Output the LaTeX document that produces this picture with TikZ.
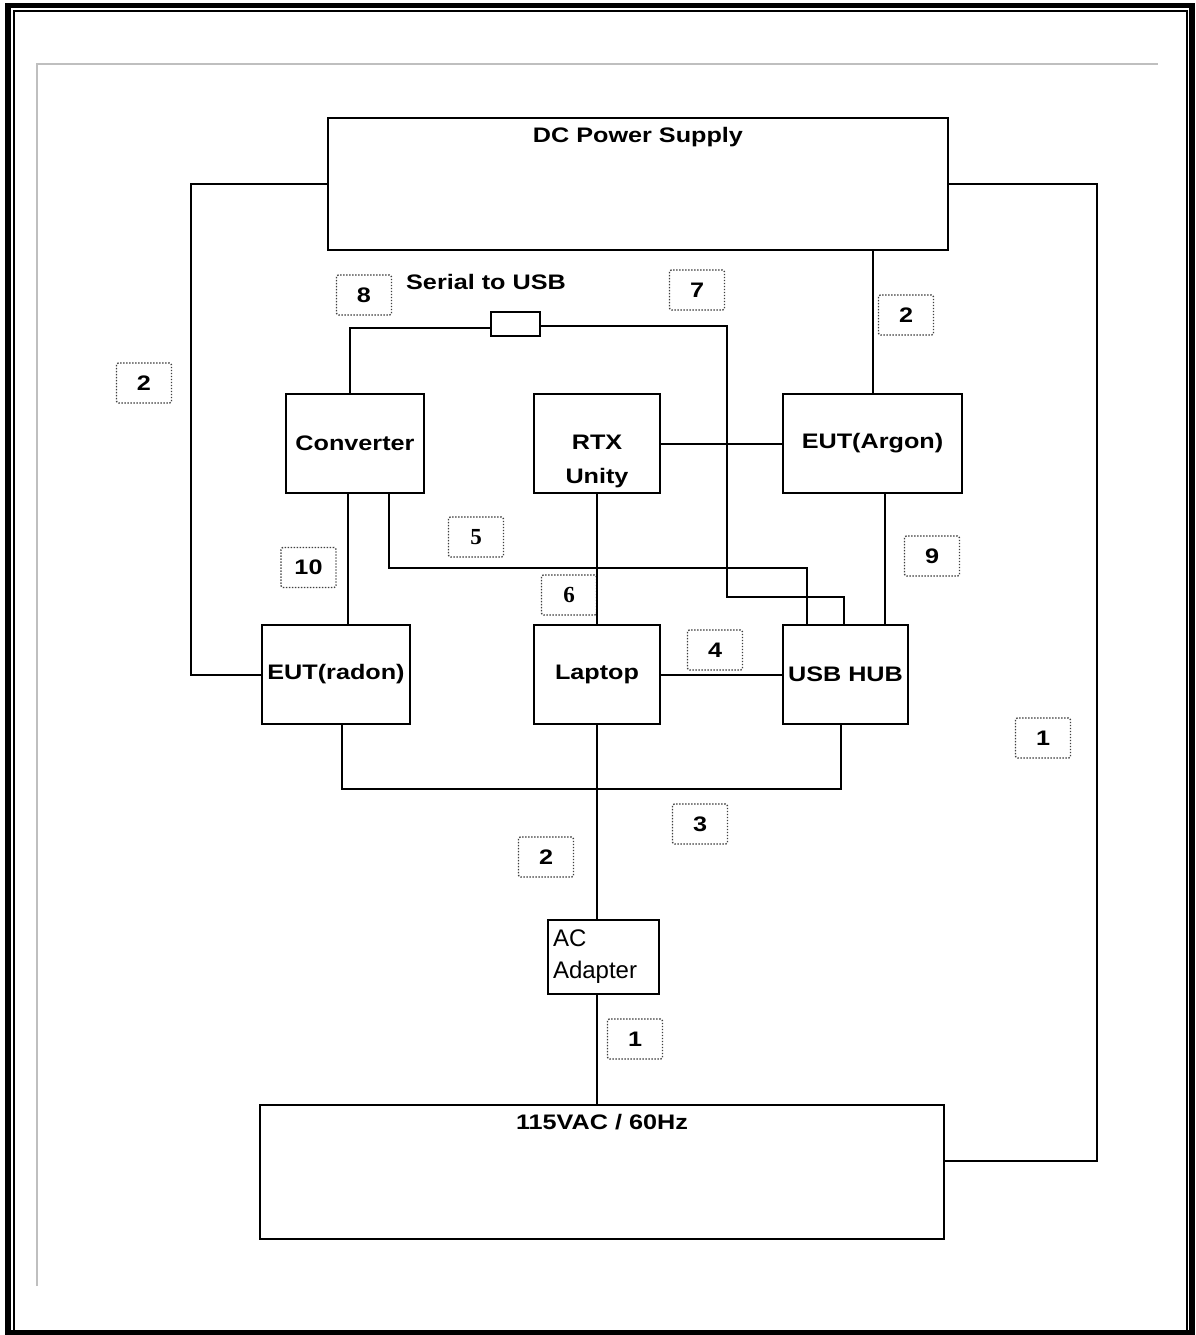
\documentclass[tikz,border=0pt]{standalone}
\usepackage{fontspec}
\setmainfont{Liberation Sans}
\newfontfamily\bsf[FakeStretch=1.2]{Liberation Sans}
\newfontfamily\bsr{Liberation Serif}
\begin{document}
\begin{tikzpicture}[x=1pt,y=-1pt,line width=2pt,
  box/.style={draw,line width=2pt,inner sep=0pt},
  btxt/.style={font=\bsf\bfseries\fontsize{21}{25}\selectfont,inner sep=0pt},
  numbox/.style={draw=black!75,line width=1.4pt,dash pattern=on 1.4pt off 1.6pt,
    rounded corners=2pt,minimum width=55pt,minimum height=40pt,inner sep=0pt,
    font=\bsf\bfseries\fontsize{21}{25}\selectfont},
  serifnum/.style={numbox,font=\bsr\bfseries\fontsize{23}{26}\selectfont}]
\useasboundingbox (0,0) rectangle (1195,1335);
% page frame
\draw[line width=5.5pt] (8,5.5) rectangle (1192,1333);
\draw[line width=2pt] (13.5,11.5) rectangle (1187,1331);
\draw[black!25,line width=2pt] (37,1286) -- (37,64) -- (1158,64);
% boxes
\node[box,minimum width=620pt,minimum height=132pt] (dc) at (638,184) {};
\node[btxt] (dct) at (638,137) {DC Power Supply};
\node[box,minimum width=138pt,minimum height=99pt,btxt] (conv) at (355,443.5) {Converter};
\node[box,minimum width=126pt,minimum height=99pt] (rtx) at (597,443.5) {};
\node[btxt,align=center] (rtxt) at (597,461) {RTX\\[9pt]Unity};
\node[box,minimum width=179pt,minimum height=99pt,btxt] (argon) at (872.5,443.5) {EUT(Argon)};
\node[box,minimum width=148pt,minimum height=99pt,btxt] (radon) at (336,674.5) {EUT(radon)};
\node[box,minimum width=126pt,minimum height=99pt,btxt] (laptop) at (597,674.5) {Laptop};
\node[box,minimum width=125pt,minimum height=99pt,btxt] (hub) at (845.5,674.5) {USB HUB};
\node[box,minimum width=49pt,minimum height=24pt] (ser) at (515.5,324) {};
\node[btxt] (sert) at (486,282) {Serial to USB};
\node[box,minimum height=74pt,text width=101pt,inner xsep=5pt,align=left,
  font=\fontsize{24}{32}\selectfont] (acad) at (603.5,957) {AC\\Adapter};
\node[box,minimum width=684pt,minimum height=134pt] (ac) at (602,1172) {};
\node[btxt] (act) at (602,1122) {115VAC / 60Hz};
% number labels
\node[numbox] (n2l) at (144,383) {2};
\node[numbox] (n8) at (364,295) {8};
\node[numbox] (n7) at (697,290) {7};
\node[numbox] (n2r) at (906,315) {2};
\node[serifnum] (n5) at (476,537) {5};
\node[numbox] (n10) at (308.5,567.5) {10};
\node[serifnum] (n6) at (569,595) {6};
\node[numbox] (n9) at (932,556) {9};
\node[numbox] (n4) at (715,650) {4};
\node[numbox] (n1r) at (1043,738) {1};
\node[numbox] (n3) at (700,824) {3};
\node[numbox] (n2b) at (546,857) {2};
\node[numbox] (n1b) at (635,1039) {1};
% junction points
\coordinate (s7) at (727,597);
\coordinate (j5) at (597,568);
\coordinate (j3) at (597,789);
% connectors
\draw (dc.west) -- ++(-136,0) |- (radon.west);
\draw (dc.east) -- ++(148,0) |- ([yshift=11pt]ac.east);
\draw (argon.north) -- (argon.north |- dc.south);
\draw ([xshift=-5pt]conv.north) |- ([yshift=-4pt]ser.west);
\draw ([yshift=-2pt]ser.east) -| (s7) -| ([xshift=-1.5pt]hub.north);
\draw ([xshift=-7pt]conv.south) -- ([xshift=-7pt]conv.south |- radon.north);
\draw ([xshift=34pt]conv.south) |- (j5) -| ([xshift=-38.5pt]hub.north);
\draw (rtx.south) -- (laptop.north);
\draw (rtx.east) -- (argon.west);
\draw ([xshift=12.5pt]argon.south) -- ([xshift=12.5pt]argon.south |- hub.north);
\draw (laptop.east) -- (hub.west);
\draw ([xshift=6pt]radon.south) |- (j3) -| ([xshift=-4.5pt]hub.south);
\draw (laptop.south) -- (laptop.south |- acad.north);
\draw (laptop.south |- acad.south) -- (laptop.south |- ac.north);
\end{tikzpicture}
\end{document}
